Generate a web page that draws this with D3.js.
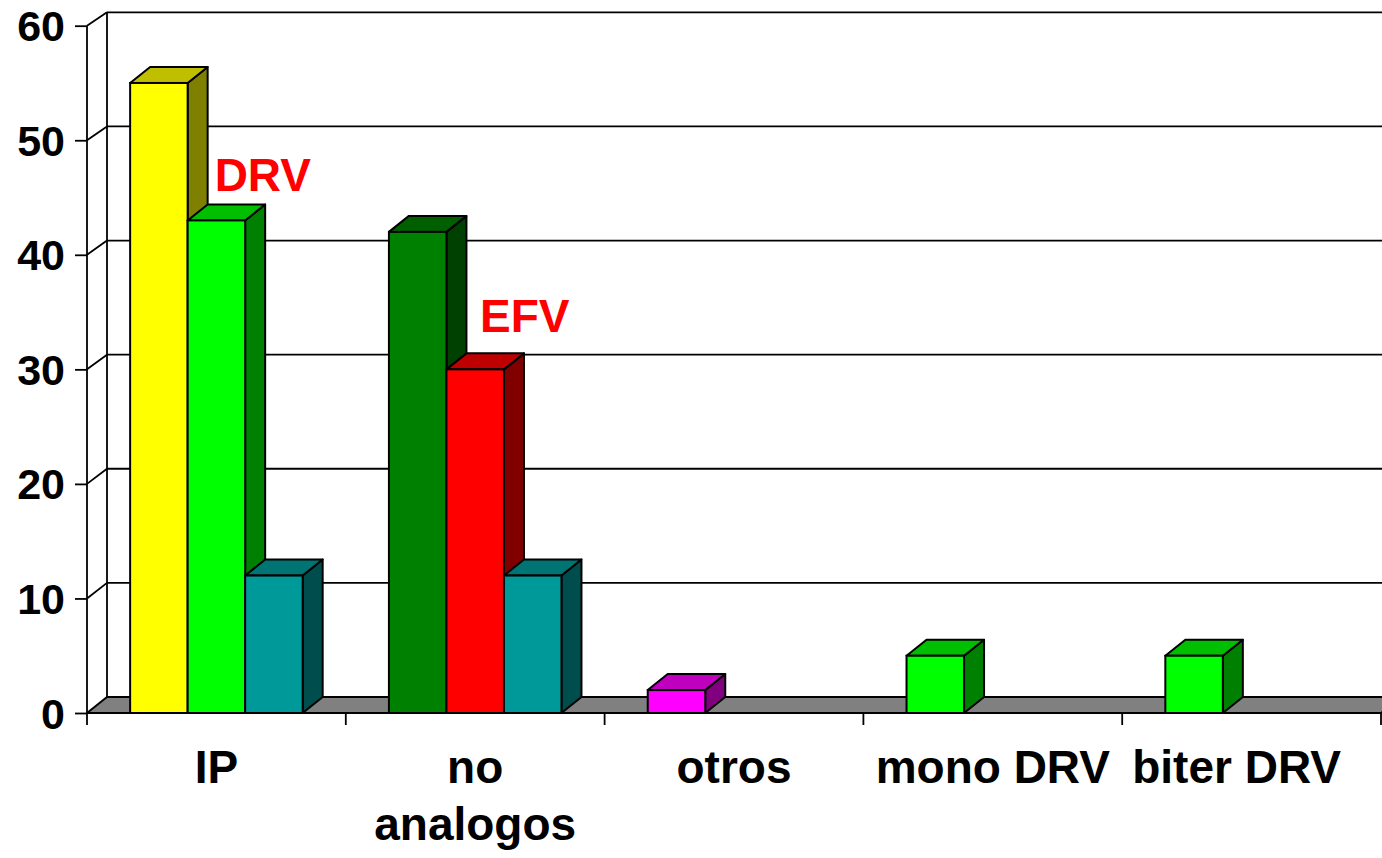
<!DOCTYPE html>
<html>
<head>
<meta charset="utf-8">
<script src="https://cdn.jsdelivr.net/npm/d3@7"></script>
<style>
html,body{margin:0;padding:0;background:#fff;overflow:hidden;}
svg{display:block;font-family:Arial,"Liberation Sans",sans-serif;font-weight:bold;}
</style>
</head>
<body>
<svg id="chart" width="1382" height="858"></svg>
<script>
// ---- data ----
const categories = ["IP", "no analogos", "otros", "mono DRV", "biter DRV"];
const serie1 = [55, 42, 2, 5, 5];
const serie2 = [43, 30, null, null, null];
const serie3 = [12, 12, null, null, null];
const serie1Colors = ["#FFFF00", "#008000", "#FF00FF", "#00FF00", "#00FF00"];
const serie2Colors = ["#00FF00", "#FF0000", null, null, null];
const serie3Colors = ["#009999", "#009999", null, null, null];
const yTicks = [0, 10, 20, 30, 40, 50, 60];
const annotations = [
  {text: "DRV", cat: "IP", slot: 1, value: 45.6, dx: 27},
  {text: "EFV", cat: "no analogos", slot: 2, value: 33.3, dx: -24}
];

// ---- layout ----
const svg = d3.select("#chart");
const DX = 20, DY = -16;
const x = d3.scaleBand().domain(categories).range([87, 1381]).paddingInner(0).paddingOuter(0);
const slot = d3.scaleBand().domain([0, 1, 2]).range([0, x.bandwidth()]).paddingInner(0).paddingOuter(0.75);
const y = d3.scaleLinear().domain([0, 60]).range([713, 25.7]);
const yBack = d3.scaleLinear().domain([0, 60]).range([697, 12.3]);
const x0 = 87, x1 = 1381;

// back wall gridlines
svg.append("g").selectAll("line").data(yTicks.filter(d => d > 0)).join("line")
  .attr("x1", x0 + DX).attr("x2", x1 + DX)
  .attr("y1", d => yBack(d)).attr("y2", d => yBack(d))
  .attr("stroke", "#000").attr("stroke-width", 1.8);
// left wall back edge
svg.append("line").attr("x1", x0 + DX).attr("x2", x0 + DX)
  .attr("y1", yBack(0)).attr("y2", yBack(60)).attr("stroke", "#000").attr("stroke-width", 1.8);
// left wall diagonals
svg.append("g").selectAll("line").data(yTicks.filter(d => d > 0)).join("line")
  .attr("x1", x0).attr("x2", x0 + DX)
  .attr("y1", d => y(d)).attr("y2", d => yBack(d))
  .attr("stroke", "#000").attr("stroke-width", 1.8);

// floor
svg.append("path")
  .attr("d", `M${x0},${y(0)}L${x1},${y(0)}L${x1 + DX},${yBack(0)}L${x0 + DX},${yBack(0)}Z`)
  .attr("fill", "#808080").attr("stroke", "#000").attr("stroke-width", 2).attr("stroke-linejoin", "round");

// front value axis
const yAxisG = svg.append("g").attr("transform", `translate(${x0},0)`)
  .call(d3.axisLeft(y).tickValues(yTicks).tickSize(12).tickPadding(10).tickFormat(d3.format("d")));
yAxisG.select(".domain").attr("d", `M0,${y(0)}V${y(60)}`).attr("stroke", "#000").attr("stroke-width", 1.8);
yAxisG.selectAll(".tick line").attr("stroke", "#000").attr("stroke-width", 1.8);
yAxisG.selectAll(".tick text").attr("font-size", 43).attr("font-weight", "bold")
  .attr("font-family", "Arial, 'Liberation Sans', sans-serif").attr("fill", "#000").attr("dy", "0.35em");

// category axis
const xAxisG = svg.append("g").attr("transform", `translate(0,${y(0)})`)
  .call(d3.axisBottom(x).tickSize(0).tickFormat(""));
xAxisG.select(".domain").remove();
const bounds = categories.map(c => x(c)).concat([x1]);
svg.append("g").selectAll("line").data(bounds).join("line")
  .attr("x1", d => d).attr("x2", d => d).attr("y1", y(0)).attr("y2", y(0) + 12)
  .attr("stroke", "#000").attr("stroke-width", 1.8);

const labels = svg.append("g").selectAll("text").data(categories).join("text")
  .attr("x", d => x(d) + x.bandwidth() / 2).attr("y", 783)
  .attr("text-anchor", "middle").attr("font-size", 46).attr("fill", "#000");
labels.each(function (d) {
  const t = d3.select(this);
  if (d === "no analogos") {
    t.append("tspan").attr("x", x(d) + x.bandwidth() / 2).attr("dy", 0).text("no");
    t.append("tspan").attr("x", x(d) + x.bandwidth() / 2).attr("dy", 57).text("analogos");
  } else {
    t.text(d);
  }
});
// keep labels inside the chart area like the original
labels.each(function () {
  const t = d3.select(this);
  const w = this.getComputedTextLength();
  const cx = +t.attr("x");
  if (cx + w / 2 > 1341) t.attr("x", 1341 - w / 2);
});

// bars
function shade(c, k) {
  const r = d3.rgb(c);
  return d3.rgb(r.r * k, r.g * k, r.b * k).formatHex();
}
const bars = [];
categories.forEach((c, i) => {
  [[serie1, serie1Colors], [serie2, serie2Colors], [serie3, serie3Colors]].forEach(([vals, cols], s) => {
    if (vals[i] != null) bars.push({cat: c, slot: s, value: vals[i], color: cols[i]});
  });
});
const bw = slot.bandwidth();
const barG = svg.append("g").selectAll("g").data(bars).join("g");
barG.each(function (d) {
  const g = d3.select(this);
  const bx = x(d.cat) + slot(d.slot);
  const yt = y(d.value), yb = y(0);
  // side face
  g.append("path")
    .attr("d", `M${bx + bw},${yb}L${bx + bw + DX},${yb + DY}L${bx + bw + DX},${yt + DY}L${bx + bw},${yt}Z`)
    .attr("fill", shade(d.color, 0.5)).attr("stroke", "#000").attr("stroke-width", 2).attr("stroke-linejoin", "round");
  // top face
  g.append("path")
    .attr("d", `M${bx},${yt}L${bx + DX},${yt + DY}L${bx + bw + DX},${yt + DY}L${bx + bw},${yt}Z`)
    .attr("fill", shade(d.color, 0.75)).attr("stroke", "#000").attr("stroke-width", 2).attr("stroke-linejoin", "round");
  // front face
  g.append("rect").attr("x", bx).attr("y", yt).attr("width", bw).attr("height", yb - yt)
    .attr("fill", d.color).attr("stroke", "#000").attr("stroke-width", 2);
});

// annotations
svg.append("g").selectAll("text").data(annotations).join("text")
  .attr("x", d => x(d.cat) + slot(d.slot) + d.dx)
  .attr("y", d => y(d.value))
  .attr("font-size", 46).attr("fill", "#FF0000").text(d => d.text);
</script>
</body>
</html>
